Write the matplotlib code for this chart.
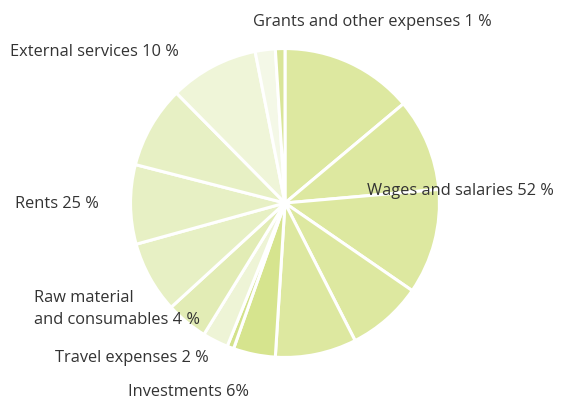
""" Expense breakdown pie, split into sub-wedges """
from matplotlib import pyplot as plt

# sub-wedge shares (percent of the whole), clockwise from 12 o'clock
shares = [13.9, 9.7, 11.0, 7.9, 8.5,   # wages and salaries
          4.4, 0.7,                    # investments
          2.7,                         # travel expenses
          4.4,                         # raw material and consumables
          7.5, 8.3, 8.6,               # rents
          9.3,                         # external services
          2.1, 1.0]                    # grants and other expenses
colors = ["#dde8a0"] * 5 + ["#d6e48e", "#d3e28a"] + ["#eef4d6"] + ["#e2ecb5"] \
    + ["#e7f0c4"] * 3 + ["#eff5d8"] + ["#f4f8e7", "#d9e598"]

labels = ["Grants and other expenses 1 %",
          "External services 10 %",
          "Wages and salaries 52 %",
          "Rents 25 %",
          "Raw material\nand consumables 4 %",
          "Travel expenses 2 %",
          "Investments 6%"]
# label anchor, pixels from top-left (left edge, vertical centre)
label_xy = [(253, 22), (10, 52), (367, 191), (15, 204),
            (34, 309), (55, 358), (128, 392)]

W, H = 562, 400
fig = plt.figure(figsize=(W / 100, H / 100), dpi=100)
cx, cy, r = 285, 203, 156
ax = fig.add_axes([(cx - r) / W, (H - cy - r) / H, 2 * r / W, 2 * r / H])
ax.pie(shares, colors=colors, startangle=90, counterclock=False, radius=1,
       wedgeprops=dict(edgecolor="white", linewidth=2.2))
ax.set_xlim(-1.01, 1.01)
ax.set_ylim(-1.01, 1.01)
ax.set_aspect("equal")
ax.axis("off")

for txt, (x, y) in zip(labels, label_xy):
    fig.text(x / W, 1 - y / H, txt, ha="left", va="center",
             fontsize=11.8, family="Open Sans", color="#333333",
             linespacing=1.45)

fig.savefig("out.png", dpi=100)
